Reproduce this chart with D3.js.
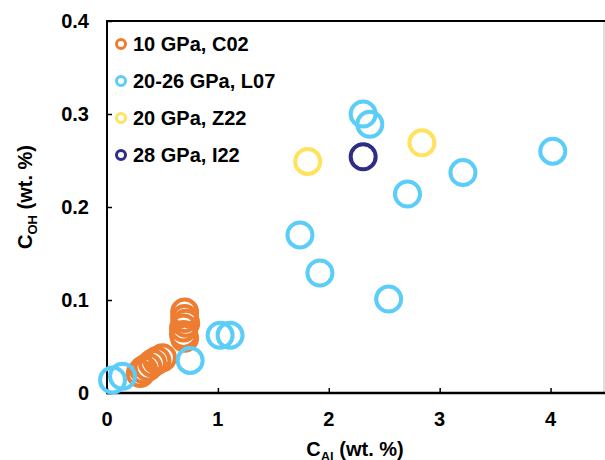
<!DOCTYPE html>
<html>
<head>
<meta charset="utf-8">
<script src="https://cdn.jsdelivr.net/npm/d3@7"></script>
<style>
  body { margin: 0; background: #fff; }
  svg { display: block; font-family: "Liberation Sans", Arial, sans-serif; }
</style>
</head>
<body>
<div id="chart"></div>
<script>
// series, in the order they are drawn (and listed in the legend)
var seriesNames = ["10 GPa, C02", "20-26 GPa, L07", "20 GPa, Z22", "28 GPa, I22"];
var seriesColors = ["#ED7D31", "#5BCDF8", "#FFE35E", "#2E2C85"];

// C02 (orange)
var c02Al = [0.30, 0.33, 0.37, 0.41, 0.45, 0.50, 0.70, 0.70, 0.71, 0.69, 0.69, 0.70];
var c02OH = [0.021, 0.025, 0.028, 0.032, 0.035, 0.038, 0.087, 0.080, 0.075, 0.070, 0.063, 0.059];

// L07 (light blue)
var l07Al = [4.02, 2.31, 2.37, 3.21, 2.71, 1.74, 1.92, 2.54, 1.02, 1.11, 0.75, 0.05, 0.14];
var l07OH = [0.260, 0.300, 0.289, 0.237, 0.214, 0.170, 0.129, 0.101, 0.062, 0.062, 0.035, 0.014, 0.018];

// Z22 (yellow)
var z22Al = [1.81, 2.84];
var z22OH = [0.249, 0.269];

// I22 (dark blue)
var i22Al = [2.31];
var i22OH = [0.254];

var xTicks = [0, 1, 2, 3, 4];
var yTicks = [0, 0.1, 0.2, 0.3, 0.4];

var W = 605, H = 460;
var pLeft = 107, pTop = 21, pRight = 604, pBottom = 393;
var fs = 20;

var svg = d3.select("#chart").append("svg")
    .attr("width", W)
    .attr("height", H);

var x = d3.scaleLinear().domain([0, 4.5]).range([pLeft, 606]);
var y = d3.scaleLinear().domain([0, 0.4]).range([pBottom, pTop]);

// right border of the plot area (light gray)
svg.append("line")
    .attr("x1", pRight).attr("x2", pRight)
    .attr("y1", pTop).attr("y2", pBottom)
    .attr("stroke", "#bfbfbf").attr("stroke-width", 1);

// top border
svg.append("line")
    .attr("x1", pLeft).attr("x2", pRight + 1)
    .attr("y1", pTop).attr("y2", pTop)
    .attr("stroke", "#000").attr("stroke-width", 2);

// axes with inside ticks
var xAxis = d3.axisTop(x).tickValues(xTicks).tickSize(5).tickFormat("");
var gx = svg.append("g")
    .attr("transform", "translate(0," + pBottom + ")")
    .call(xAxis);
gx.select(".domain").remove();
gx.selectAll("line").attr("stroke", "#000").attr("stroke-width", 1.5);
svg.append("line")
    .attr("x1", pLeft - 1).attr("x2", pRight + 1)
    .attr("y1", pBottom).attr("y2", pBottom)
    .attr("stroke", "#000").attr("stroke-width", 2.5);

var yAxis = d3.axisRight(y).tickValues(yTicks).tickSize(5).tickFormat("");
var gy = svg.append("g")
    .attr("transform", "translate(" + pLeft + ",0)")
    .call(yAxis);
gy.select(".domain").remove();
gy.selectAll("line").attr("stroke", "#000").attr("stroke-width", 1.5);
svg.append("line")
    .attr("x1", pLeft).attr("x2", pLeft)
    .attr("y1", pTop - 1).attr("y2", pBottom + 1)
    .attr("stroke", "#000").attr("stroke-width", 2);

// tick labels
svg.selectAll(".xlab")
    .data(xTicks)
    .enter().append("text")
    .attr("x", function(d) { return x(d); })
    .attr("y", 426)
    .attr("text-anchor", "middle")
    .attr("font-size", fs).attr("font-weight", "bold")
    .text(function(d) { return d; });

svg.selectAll(".ylab")
    .data(yTicks)
    .enter().append("text")
    .attr("x", 89)
    .attr("y", function(d) { return y(d) + 7; })
    .attr("text-anchor", "end")
    .attr("font-size", fs).attr("font-weight", "bold")
    .text(function(d) { return d === 0 ? "0" : d3.format(".1f")(d); });

// axis titles
var xt = svg.append("text")
    .attr("x", 355).attr("y", 456)
    .attr("text-anchor", "middle")
    .attr("font-size", fs).attr("font-weight", "bold");
xt.append("tspan").text("C");
xt.append("tspan").attr("font-size", 13).attr("dy", 5).text("Al");
xt.append("tspan").attr("dy", -5).text(" (wt. %)");

var yt = svg.append("text")
    .attr("transform", "translate(32,197) rotate(-90)")
    .attr("text-anchor", "middle")
    .attr("font-size", fs).attr("font-weight", "bold");
yt.append("tspan").text("C");
yt.append("tspan").attr("font-size", 13).attr("dy", 5).text("OH");
yt.append("tspan").attr("dy", -5).text(" (wt. %)");

// points
var series = [
  { al: c02Al, oh: c02OH },
  { al: l07Al, oh: l07OH },
  { al: z22Al, oh: z22OH },
  { al: i22Al, oh: i22OH }
];

series.forEach(function(s, k) {
  svg.append("g").selectAll("circle")
      .data(s.al)
      .enter().append("circle")
      .attr("cx", function(d) { return x(d); })
      .attr("cy", function(d, i) { return y(s.oh[i]); })
      .attr("r", 12.5)
      .attr("fill", "none")
      .attr("stroke", seriesColors[k])
      .attr("stroke-width", 4);
});

// legend
var legend = svg.append("g");
seriesNames.forEach(function(name, i) {
  var ly = 44 + i * 37;
  legend.append("circle")
      .attr("cx", 121).attr("cy", ly)
      .attr("r", 4.5)
      .attr("fill", "none")
      .attr("stroke", seriesColors[i])
      .attr("stroke-width", 3);
  legend.append("text")
      .attr("x", 133).attr("y", ly + 7)
      .attr("font-size", fs).attr("font-weight", "bold")
      .text(name);
});
</script>
</body>
</html>
